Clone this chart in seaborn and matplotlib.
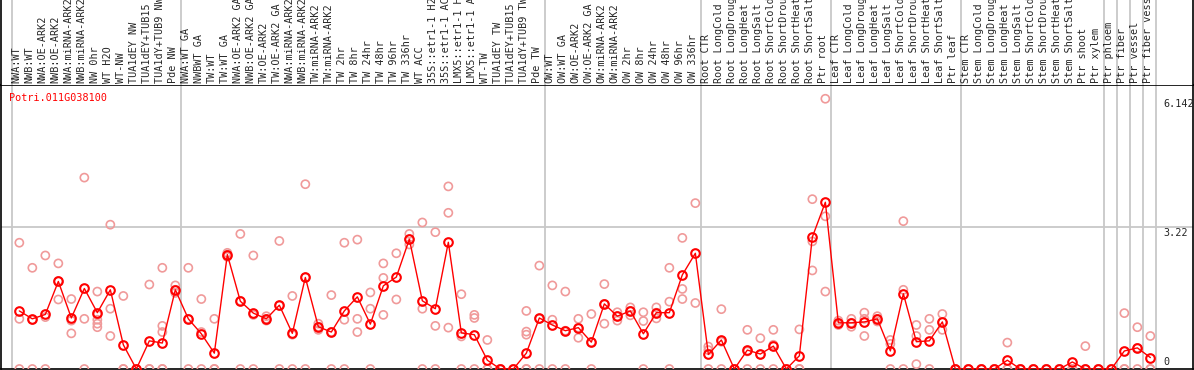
import numpy as np
import pandas as pd
import matplotlib.pyplot as plt
import seaborn as sns

sns.set_style('white')
plt.rcParams['font.family'] = ['DejaVu Sans Mono']

gene = 'Potri.011G038100'

samples = [
    'NWA:WT', 'NWB:WT', 'NWA:OE-ARK2', 'NWB:OE-ARK2', 'NWA:miRNA-ARK2', 'NWB:miRNA-ARK2',
    'NW 0hr', 'WT H2O', 'WT-NW', 'TUA1dEY NW', 'TUA1dEY+TUB15 NW', 'TUA1dY+TUB9 NW', 'Pde NW',
    'NWA:WT GA', 'NWBWT GA', 'TW:WT', 'TW:WT GA', 'NWA:OE-ARK2 GA', 'NWB:OE-ARK2 GA',
    'TW:OE-ARK2', 'TW:OE-ARK2 GA', 'NWA:miRNA-ARK2', 'NWB:miRNA-ARK2', 'TW:miRNA-ARK2',
    'TW:miRNA-ARK2', 'TW 2hr', 'TW 8hr', 'TW 24hr', 'TW 48hr', 'TW 96hr', 'TW 336hr', 'WT ACC',
    '35S::etr1-1 H2O', '35S::etr1-1 ACC', 'LMX5::etr1-1 H2O', 'LMX5::etr1-1 ACC', 'WT-TW',
    'TUA1dEY TW', 'TUA1dEY+TUB15 TW', 'TUA1dY+TUB9 TW', 'Pde TW',
    'OW:WT', 'OW:WT GA', 'OW:OE-ARK2', 'OW:OE-ARK2 GA', 'OW:miRNA-ARK2', 'OW:miRNA-ARK2',
    'OW 2hr', 'OW 8hr', 'OW 24hr', 'OW 48hr', 'OW 96hr', 'OW 336hr',
    'Root CTR', 'Root LongCold', 'Root LongDrought', 'Root LongHeat', 'Root LongSalt',
    'Root ShortCold', 'Root ShortDrought', 'Root ShortHeat', 'Root ShortSalt', 'Ptr root',
    'Leaf CTR', 'Leaf LongCold', 'Leaf LongDrought', 'Leaf LongHeat', 'Leaf LongSalt',
    'Leaf ShortCold', 'Leaf ShortDrought', 'Leaf ShortHeat', 'Leaf ShortSalt', 'Ptr leaf',
    'Stem CTR', 'Stem LongCold', 'Stem LongDrought', 'Stem LongHeat', 'Stem LongSalt',
    'Stem ShortCold', 'Stem ShortDrought', 'Stem ShortHeat', 'Stem ShortSalt', 'Ptr shoot',
    'Ptr xylem', 'Ptr phloem', 'Ptr fiber', 'Ptr vessel', 'Ptr fiber vessel',
]

# first sample index of each group (plus the end)
group_starts = [0, 13, 41, 53, 63, 73, 84, 85, 86, 87, 88]

means = [
    1.32, 1.14, 1.24, 1.99, 1.16, 1.83, 1.28, 1.80, 0.55, 0.0,
    0.64, 0.59, 1.80, 1.14, 0.80, 0.36, 2.60, 1.54, 1.27, 1.14,
    1.45, 0.81, 2.08, 0.96, 0.84, 1.32, 1.64, 1.02, 1.89, 2.09,
    2.95, 1.55, 1.37, 2.88, 0.82, 0.78, 0.20, 0.0, 0.0, 0.36,
    1.16, 1.00, 0.87, 0.94, 0.61, 1.48, 1.20, 1.32, 0.80, 1.28,
    1.28, 2.14, 2.63, 0.33, 0.66, 0.0, 0.43, 0.34, 0.52, 0.0,
    0.30, 3.00, 3.79, 1.05, 1.05, 1.07, 1.14, 0.41, 1.71, 0.62,
    0.64, 1.07, 0.0, 0.0, 0.0, 0.0, 0.20, 0.0, 0.0, 0.0,
    0.0, 0.16, 0.0, 0.0, 0.0, 0.41, 0.48, 0.26,
]

replicates = [
    [2.87, 1.14, 0], [2.30, 1.12, 0], [2.58, 1.18, 0], [2.40, 1.58, 2.0],
    [1.59, 1.10, 0.81], [4.35, 1.14, 0], [1.76, 1.23, 1.12, 1.03, 0.95], [3.28, 1.37, 0.75],
    [1.66, 0, 0], [0, 0, 0], [1.92, 0, 0], [2.30, 0.98, 0.84, 0, 0], [1.90, 1.80, 1.73],
    [2.30, 1.14, 0], [1.59, 0.84, 0], [1.14, 0, 0], [2.64, 2.60, 2.55], [3.07, 1.55, 0],
    [2.58, 1.23, 0], [1.20, 1.14, 1.10], [2.91, 1.44, 0], [1.66, 0.78, 0], [4.20, 2.08, 0],
    [1.03, 0.96, 0.89], [1.68, 0.84, 0], [2.87, 1.12, 0], [2.94, 1.14, 0.84], [1.74, 1.37, 0],
    [2.40, 2.07, 1.23], [2.63, 1.58], [3.07, 2.95, 2.83], [3.33, 1.37, 0], [3.11, 0.98, 0],
    [4.15, 3.55, 0.94], [1.70, 0.74, 0], [1.23, 1.16, 0], [0.66, 0, 0], [0, 0, 0], [0, 0, 0],
    [1.32, 0.85, 0.78, 0, 0], [2.35, 1.14, 0],
    [1.90, 1.12, 0], [1.76, 0.87, 0], [1.14, 0.94, 0.71], [1.25, 0.61, 0], [1.93, 1.48, 1.03],
    [1.29, 1.20, 1.10], [1.40, 1.32, 1.22], [1.29, 1.09, 0], [1.40, 1.28, 1.15],
    [2.30, 1.53, 0], [2.98, 1.82, 1.59], [3.77, 1.50],
    [0.51, 0.43, 0], [1.36, 0.62, 0], [0, 0, 0], [0.89, 0.40, 0], [0.70, 0.33, 0],
    [0.89, 0.55, 0], [0, 0, 0], [0.90, 0, 0], [3.86, 2.24, 2.90], [6.142, 3.47, 1.76],
    [1.10, 1.05, 1.00], [1.14, 1.05, 0.96], [1.28, 1.14, 0.75], [1.20, 1.14, 1.08],
    [0.66, 0.57, 0], [3.36, 1.80, 0], [1.00, 0.75, 0.11], [0.89, 1.14, 0], [1.07, 0.89, 1.25],
    [0, 0, 0],
    [0, 0, 0], [0, 0, 0], [0, 0, 0], [0.60, 0, 0], [0, 0, 0], [0, 0, 0], [0, 0, 0], [0, 0, 0],
    [0, 0, 0], [0.52, 0, 0], [0, 0, 0],
    [0, 0, 0], [1.27, 0, 0], [0.95, 0.48, 0], [0.75, 0, 0],
]

y_ticks = [6.142, 3.22, 0]

idx = np.arange(len(samples))
main_df = pd.DataFrame({'x': idx, 'value': means})
rep_df = pd.DataFrame([(i, v) for i, vals in enumerate(replicates) for v in vals],
                      columns=['x', 'value'])

W, H = 1194, 370
fig = plt.figure(figsize=(W / 100, H / 100), dpi=100)
x_lim = (-1.41, 90.28)
left = 1 / W
width = 1192 / W
split = (H - 85) / H
ax = fig.add_axes([left, 1 / H, width, split - 1 / H])
ax_lab = fig.add_axes([left, split, width, 1 - split])

red = '#ff0000'
pink = '#f09a9a'
grey = '#c8c8c8'
fs = 7.3

sns.scatterplot(data=rep_df, x='x', y='value', ax=ax, marker='o', s=34,
                facecolor='none', edgecolor=pink, linewidth=1.2, zorder=3)
sns.lineplot(data=main_df, x='x', y='value', ax=ax, color=red, linewidth=1.0,
             marker='o', markersize=6.2, markerfacecolor='none',
             markeredgecolor=red, markeredgewidth=1.5, zorder=4)

for b in group_starts:
    ax.axvline(b - 0.6, color=grey, linewidth=1.3, zorder=1)
    ax_lab.axvline(b - 0.6, color=grey, linewidth=1.3, zorder=1)
ax.axhline(3.22, color=grey, linewidth=1.3, zorder=1)

ax.set_xlim(*x_lim)
ax.set_ylim(0, 284 / 44.0)
ax.set_xticks([])
ax.set_yticks([])
ax.set_xlabel('')
ax.set_ylabel('')
for s in ax.spines.values():
    s.set_color('black')
    s.set_linewidth(1.2)

ax.text(0.007, 0.955, gene, transform=ax.transAxes, color=red, fontsize=fs,
        ha='left', va='center')
for t in y_ticks:
    va = 'bottom' if t == 0 else 'top'
    off = 1.5 if t == 0 else -0.4
    ax.annotate(f'{t:g}' if t != 6.142 else '6.142', xy=(0.975, t), xycoords=('axes fraction', 'data'),
                xytext=(0, off), textcoords='offset points', fontsize=fs, ha='left', va=va)

ax_lab.set_xlim(*x_lim)
ax_lab.set_ylim(0, 1)
ax_lab.set_xticks([])
ax_lab.set_yticks([])
ax_lab.spines['top'].set_visible(False)
ax_lab.spines['bottom'].set_visible(False)
for side in ['left', 'right']:
    ax_lab.spines[side].set_color('black')
    ax_lab.spines[side].set_linewidth(1.2)
for i, name in enumerate(samples):
    ax_lab.text(i - 0.2, 0.02, name, rotation=90, ha='center', va='bottom', fontsize=fs)

fig.savefig('out.png', dpi=100)
